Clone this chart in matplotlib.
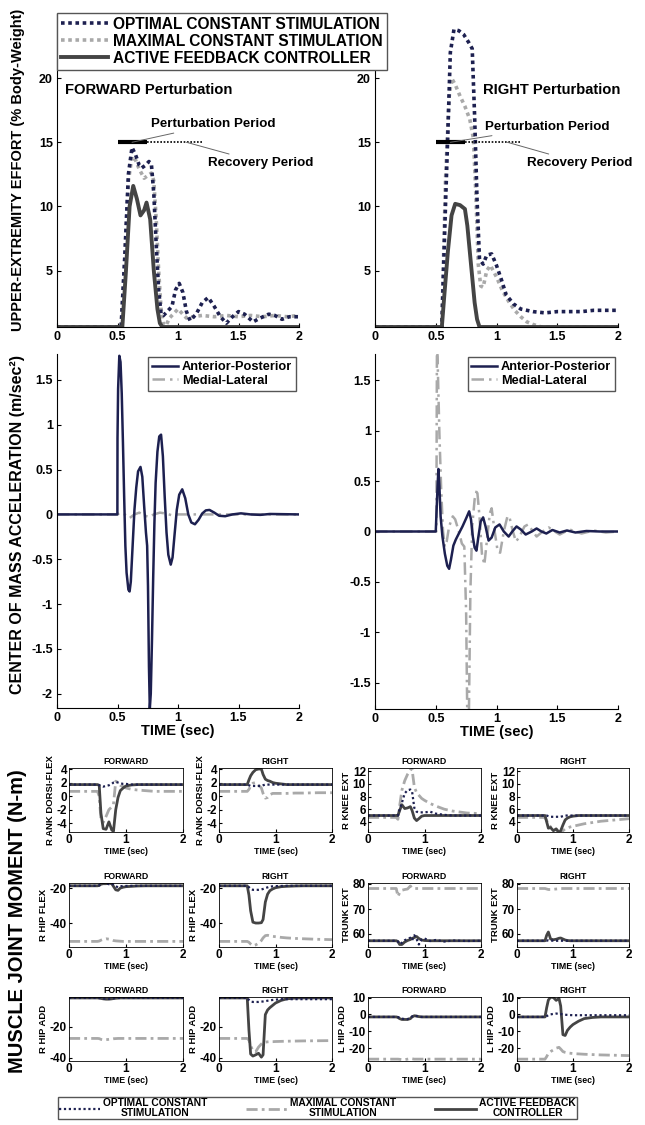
import numpy as np
import matplotlib
matplotlib.use('Agg')
import matplotlib.pyplot as plt
from matplotlib.lines import Line2D
from matplotlib.ticker import FuncFormatter

plt.rcParams['font.family'] = ['Liberation Sans', 'DejaVu Sans']
plt.rcParams['font.weight'] = 'bold'
plt.rcParams['axes.labelweight'] = 'bold'
plt.rcParams['axes.titleweight'] = 'bold'
plt.rcParams['axes.unicode_minus'] = False

# ---------------- upper-extremity effort (% body weight) ----------------
eff_fwd_act_t = [0, 0.54, 0.57, 0.60, 0.63, 0.66, 0.69, 0.72, 0.74, 0.77, 0.80, 0.83, 0.85, 0.87, 2.0]
eff_fwd_act = [0.6, 0.6, 5.0, 10.0, 11.6, 10.6, 9.3, 9.7, 10.3, 9.0, 5.0, 2.0, 0.9, 0.6, 0.6]
eff_fwd_opt_t = [0, 0.53, 0.56, 0.59, 0.62, 0.65, 0.68, 0.70, 0.73, 0.76, 0.78, 0.80, 0.82, 0.84, 0.86,
                 0.88, 0.91, 0.95, 0.98, 1.01, 1.04, 1.07, 1.10, 1.15, 1.20, 1.25, 1.30, 1.35, 1.40,
                 1.45, 1.50, 1.55, 1.62, 1.68, 1.75, 1.80, 1.86, 1.92, 2.0]
eff_fwd_opt = [0.6, 0.6, 6.0, 12.5, 14.6, 14.0, 13.2, 13.0, 13.2, 13.5, 13.3, 11.0, 7.0, 3.5, 1.6,
               1.5, 1.8, 2.2, 3.5, 4.0, 3.3, 1.8, 1.1, 1.6, 2.5, 2.9, 2.2, 1.4, 0.9,
               1.4, 1.8, 1.6, 1.0, 1.3, 1.6, 1.5, 1.2, 1.4, 1.4]
eff_fwd_max_t = [0, 0.53, 0.56, 0.59, 0.62, 0.65, 0.68, 0.72, 0.75, 0.78, 0.80, 0.82, 0.84, 0.86, 0.88,
                 0.90, 0.93, 0.97, 1.00, 1.03, 1.07, 1.12, 1.2, 1.3, 1.4, 1.5, 1.6, 1.7, 1.8, 1.9, 2.0]
eff_fwd_max = [0.6, 0.6, 6.0, 12.0, 13.9, 13.6, 12.9, 12.2, 12.4, 12.6, 12.0, 9.0, 5.0, 2.0, 0.8,
               0.7, 1.3, 1.7, 2.0, 1.7, 1.3, 1.4, 1.5, 1.4, 1.5, 1.4, 1.5, 1.4, 1.5, 1.4, 1.5]

eff_rgt_act_t = [0, 0.55, 0.57, 0.60, 0.63, 0.66, 0.70, 0.74, 0.76, 0.78, 0.80, 0.82, 0.84, 0.86, 2.0]
eff_rgt_act = [0.6, 0.6, 3.0, 6.5, 9.3, 10.2, 10.1, 9.8, 8.5, 6.5, 4.5, 2.5, 1.2, 0.6, 0.6]
eff_rgt_opt_t = [0, 0.55, 0.58, 0.60, 0.62, 0.65, 0.69, 0.73, 0.77, 0.80, 0.82, 0.84, 0.86, 0.89, 0.92,
                 0.96, 1.00, 1.04, 1.08, 1.14, 1.2, 1.3, 1.4, 1.5, 1.6, 1.7, 1.8, 1.9, 2.0]
eff_rgt_opt = [0.6, 0.6, 10.0, 15.8, 22.0, 23.8, 23.7, 23.4, 22.8, 22.3, 17.0, 10.5, 5.9, 5.5, 6.2,
               6.3, 5.4, 4.3, 3.1, 2.4, 2.0, 1.8, 1.7, 1.8, 1.8, 1.8, 1.9, 1.9, 1.9]
eff_rgt_max_t = [0, 0.55, 0.58, 0.61, 0.63, 0.66, 0.70, 0.74, 0.78, 0.81, 0.83, 0.85, 0.87, 0.89, 0.92,
                 0.95, 1.0, 1.05, 1.1, 1.15, 1.2, 1.25, 1.3, 1.37, 2.0]
eff_rgt_max = [0.6, 0.6, 12.0, 18.5, 20.0, 19.5, 18.6, 17.8, 16.8, 15.3, 11.0, 5.5, 3.8, 3.7, 5.0,
               5.4, 4.5, 3.4, 2.6, 1.9, 1.4, 1.0, 0.8, 0.6, 0.6]

# ---------------- centre of mass acceleration (m/sec^2) ----------------
com_fwd_ap_t = [0, 0.499, 0.500, 0.505, 0.515, 0.525, 0.535, 0.545, 0.555, 0.565, 0.575, 0.590, 0.600,
                0.610, 0.625, 0.640, 0.655, 0.670, 0.690, 0.705, 0.720, 0.735, 0.745, 0.752, 0.760,
                0.767, 0.775, 0.785, 0.795, 0.805, 0.815, 0.830, 0.845, 0.860, 0.875, 0.890, 0.905,
                0.920, 0.940, 0.955, 0.970, 0.990, 1.010, 1.035, 1.060, 1.085, 1.110, 1.140, 1.170,
                1.200, 1.230, 1.260, 1.300, 1.340, 1.390, 1.450, 1.520, 1.600, 1.680, 1.760, 2.0]
com_fwd_ap = [0, 0, 0.85, 1.40, 1.77, 1.70, 1.35, 0.80, 0.20, -0.35, -0.65, -0.84, -0.86,
              -0.75, -0.35, 0.05, 0.30, 0.48, 0.53, 0.42, 0.10, -0.20, -0.35, -0.80, -1.70,
              -2.17, -2.00, -1.40, -0.70, -0.10, 0.35, 0.70, 0.87, 0.89, 0.65, 0.20, -0.20,
              -0.45, -0.56, -0.48, -0.25, 0.05, 0.22, 0.28, 0.18, 0.0, -0.09, -0.11, -0.06,
              0.01, 0.045, 0.05, 0.02, -0.015, -0.02, 0.0, 0.012, 0.0, -0.005, 0.005, 0]
com_fwd_ml_t = [0, 0.5, 0.52, 0.56, 0.60, 0.64, 0.68, 0.72, 0.76, 0.80, 0.85, 0.90, 0.95, 1.0, 2.0]
com_fwd_ml = [0, 0, 0.02, 0.0, -0.04, 0.0, 0.02, -0.01, -0.03, 0.0, 0.02, 0.01, -0.01, 0, 0]

com_rgt_ap_t = [0, 0.500, 0.505, 0.515, 0.522, 0.530, 0.540, 0.555, 0.575, 0.595, 0.610, 0.625, 0.645,
                0.665, 0.690, 0.720, 0.750, 0.775, 0.790, 0.805, 0.820, 0.835, 0.850, 0.870, 0.890,
                0.910, 0.935, 0.960, 0.990, 1.025, 1.060, 1.100, 1.130, 1.165, 1.200, 1.240, 1.290,
                1.330, 1.370, 1.410, 1.460, 1.520, 1.580, 1.650, 1.740, 1.850, 2.0]
com_rgt_ap = [0, 0, 0.15, 0.45, 0.62, 0.45, 0.15, -0.05, -0.22, -0.34, -0.37, -0.28, -0.14,
              -0.08, -0.02, 0.05, 0.13, 0.20, 0.12, -0.05, -0.16, -0.19, -0.06, 0.10, 0.14,
              0.05, -0.09, -0.06, 0.04, 0.07, 0.0, -0.05, 0.0, 0.05, 0.02, -0.03, 0.0,
              0.03, 0.0, -0.02, 0.015, -0.01, 0.01, -0.01, 0.005, 0.0, 0]
com_rgt_ml_t = [0, 0.505, 0.510, 0.520, 0.530, 0.545, 0.560, 0.575, 0.590, 0.610, 0.640, 0.660, 0.690,
                0.715, 0.735, 0.750, 0.760, 0.772, 0.785, 0.800, 0.820, 0.840, 0.860, 0.880, 0.900,
                0.920, 0.945, 0.960, 0.985, 1.010, 1.030, 1.060, 1.090, 1.105, 1.135, 1.160, 1.190,
                1.230, 1.260, 1.300, 1.330, 1.380, 1.430, 1.480, 1.520, 1.600, 1.700, 1.800, 1.900, 2.0]
com_rgt_ml = [0, 0, 1.95, 1.47, 0.97, 0.41, 0.0, -0.15, -0.10, 0.05, 0.15, 0.12, 0.0,
              -0.12, -0.15, -0.8, -1.9, -1.9, -0.6, 0.05, 0.32, 0.42, 0.15, -0.22, -0.33,
              -0.10, 0.18, 0.23, 0.0, -0.20, -0.21, 0.0, 0.15, 0.15, 0.0, -0.10, -0.05,
              0.05, 0.07, 0.0, -0.05, 0.0, 0.04, 0.0, -0.03, 0.02, -0.02, 0.01, -0.01, 0]

# ---------------- muscle joint moments (N-m), shared time samples ----------------
t_mom = [0, 0.50, 0.53, 0.56, 0.60, 0.65, 0.70, 0.75, 0.78, 0.82, 0.86, 0.90, 0.95, 1.00, 1.10, 1.20, 1.35, 1.50, 1.75, 2.00]

ank_fwd_act = [1.7, 1.7, 1.6, -2.5, -4.8, -4.9, -3.8, -5.0, -5.2, -2.0, -0.2, 0.8, 1.2, 1.5, 1.65, 1.7, 1.7, 1.7, 1.7, 1.7]
ank_fwd_opt = [1.7, 1.7, 1.6, 1.5, 1.4, 1.5, 1.6, 1.8, 2.0, 2.1, 2.0, 1.9, 1.8, 1.8, 1.7, 1.7, 1.7, 1.7, 1.7, 1.7]
ank_fwd_max = [0.7, 0.7, 0.0, -3.4, -3.9, -3.0, -2.0, -1.6, -1.2, 2.2, 2.0, 1.6, 1.4, 1.2, 1.0, 0.9, 0.8, 0.7, 0.7, 0.7]
ank_rgt_act = [1.7, 1.7, 2.4, 3.0, 3.5, 3.9, 4.0, 4.0, 3.2, 2.5, 2.3, 2.2, 2.0, 1.9, 1.8, 1.7, 1.7, 1.7, 1.7, 1.7]
ank_rgt_opt = [1.7, 1.7, 1.6, 1.5, 1.5, 1.5, 1.5, 1.5, 1.6, 1.7, 1.7, 1.7, 1.7, 1.7, 1.7, 1.7, 1.7, 1.7, 1.7, 1.7]
ank_rgt_max = [0.7, 0.7, 1.0, 1.5, 1.9, 2.0, 1.6, 1.2, 0.4, -0.3, -0.2, 0.2, 0.4, 0.4, 0.4, 0.4, 0.45, 0.45, 0.5, 0.5]

kne_fwd_act = [5.0, 5.0, 5.0, 5.8, 6.7, 6.1, 6.2, 6.4, 5.8, 4.6, 4.2, 4.5, 4.9, 5.0, 5.0, 5.0, 5.0, 5.0, 5.0, 5.0]
kne_fwd_opt = [5.0, 5.0, 5.0, 6.0, 7.0, 8.5, 9.0, 9.1, 8.8, 6.2, 5.6, 5.5, 5.5, 5.5, 5.6, 5.3, 5.1, 5.0, 5.0, 5.0]
kne_fwd_max = [4.7, 4.7, 4.4, 6.5, 9.0, 10.5, 11.5, 12.2, 12.3, 9.5, 8.6, 8.2, 7.7, 7.4, 6.9, 6.5, 6.0, 5.7, 5.4, 5.3]
kne_rgt_act = [5.0, 5.0, 4.0, 3.0, 3.1, 2.6, 2.9, 2.3, 2.6, 3.5, 4.3, 4.6, 4.8, 4.9, 5.0, 5.0, 5.0, 5.0, 5.0, 5.0]
kne_rgt_opt = [5.0, 5.0, 5.0, 4.9, 4.8, 4.8, 4.8, 4.8, 4.8, 4.9, 5.0, 5.0, 5.0, 5.0, 5.0, 5.0, 5.0, 5.0, 5.0, 5.0]
kne_rgt_max = [4.7, 4.7, 4.2, 3.6, 3.2, 3.0, 2.7, 2.5, 2.4, 2.6, 2.9, 3.0, 3.2, 3.3, 3.5, 3.7, 3.9, 4.1, 4.3, 4.5]

hfl_fwd_act = [-18.7, -18.7, -18.5, -17.8, -17.5, -17.5, -17.2, -17.5, -19.0, -21.0, -21.3, -20.0, -19.5, -19.2, -19.0, -18.8, -18.7, -18.7, -18.7, -18.7]
hfl_fwd_opt = [-18.7, -18.7, -18.5, -17.5, -17.0, -17.3, -17.8, -17.5, -18.0, -19.0, -19.5, -19.0, -18.8, -18.8, -18.7, -18.7, -18.7, -18.7, -18.7, -18.7]
hfl_fwd_max = [-50.5, -50.5, -50.3, -49.8, -49.3, -49.0, -49.2, -49.6, -50.0, -50.2, -50.3, -50.4, -50.5, -50.5, -50.5, -50.5, -50.5, -50.5, -50.5, -50.5]
hfl_rgt_act = [-18.7, -18.7, -24.0, -33.0, -39.5, -40.0, -40.0, -39.8, -38.0, -28.0, -23.5, -21.5, -20.5, -19.8, -19.2, -19.0, -18.8, -18.7, -18.7, -18.7]
hfl_rgt_opt = [-18.7, -18.7, -19.5, -20.5, -21.0, -21.0, -21.0, -20.8, -20.5, -20.0, -19.6, -19.2, -19.0, -18.9, -18.8, -18.7, -18.7, -18.7, -18.7, -18.7]
hfl_rgt_max = [-50.5, -50.5, -51.0, -52.0, -53.0, -52.5, -51.5, -50.0, -48.5, -47.2, -47.0, -47.3, -47.6, -47.8, -48.2, -48.5, -48.8, -49.0, -49.3, -49.5]

trk_fwd_act = [57.3, 57.3, 57.0, 55.8, 55.8, 56.8, 57.4, 57.8, 58.2, 58.6, 59.0, 58.2, 57.6, 57.4, 57.3, 57.3, 57.3, 57.3, 57.3, 57.3]
trk_fwd_opt = [57.3, 57.3, 57.0, 56.0, 56.5, 57.5, 58.0, 58.5, 57.5, 59.5, 58.0, 55.8, 57.8, 58.2, 57.2, 57.6, 57.0, 57.4, 57.2, 57.3]
trk_fwd_max = [78.2, 78.2, 75.0, 76.5, 77.5, 77.8, 78.0, 79.2, 78.4, 78.2, 78.2, 78.2, 78.2, 78.2, 78.2, 78.2, 78.2, 78.2, 78.2, 78.2]
trk_rgt_act = [57.3, 57.3, 59.5, 60.8, 58.0, 57.7, 57.9, 58.3, 58.4, 58.0, 57.6, 57.4, 57.3, 57.3, 57.3, 57.3, 57.3, 57.3, 57.3, 57.3]
trk_rgt_opt = [57.3, 57.3, 57.3, 57.5, 57.4, 57.3, 57.3, 57.3, 57.3, 57.3, 57.3, 57.3, 57.3, 57.3, 57.3, 57.3, 57.3, 57.3, 57.3, 57.3]
trk_rgt_max = [78.2, 78.2, 78.0, 77.8, 77.8, 77.9, 78.0, 78.1, 78.2, 78.2, 78.2, 78.2, 78.2, 78.2, 78.2, 78.2, 78.2, 78.2, 78.2, 78.2]

rha_fwd_act = [-1.2, -1.2, -1.3, -1.5, -1.8, -2.0, -2.0, -1.8, -1.6, -1.4, -1.3, -1.2, -1.2, -1.2, -1.2, -1.2, -1.2, -1.2, -1.2, -1.2]
rha_fwd_opt = [-1.2, -1.2, -1.3, -1.4, -1.6, -1.8, -1.8, -1.6, -1.4, -1.3, -1.2, -1.2, -1.2, -1.2, -1.2, -1.2, -1.2, -1.2, -1.2, -1.2]
rha_fwd_max = [-27.4, -27.4, -27.5, -28.0, -28.3, -28.2, -28.0, -27.8, -27.6, -27.5, -27.4, -27.4, -27.4, -27.4, -27.4, -27.4, -27.4, -27.4, -27.4, -27.4]
rha_rgt_act = [-1.2, -1.2, -22.0, -37.5, -38.8, -38.0, -37.0, -39.5, -38.0, -12.0, -9.0, -7.5, -6.0, -4.5, -2.8, -1.8, -1.3, -1.2, -1.2, -1.2]
rha_rgt_opt = [-1.2, -1.2, -2.5, -3.5, -3.8, -3.8, -3.8, -3.6, -3.5, -3.3, -3.0, -2.8, -2.5, -2.3, -2.0, -2.0, -2.0, -2.0, -2.0, -2.0]
rha_rgt_max = [-27.4, -27.4, -28.5, -32.0, -35.5, -36.0, -33.0, -31.0, -30.0, -29.8, -29.6, -29.5, -29.5, -29.4, -29.3, -29.2, -29.1, -29.0, -28.9, -28.8]

lha_fwd_act = [-1.5, -1.5, -1.8, -2.5, -3.0, -3.0, -3.0, -2.5, -1.5, -0.8, -1.0, -1.3, -1.5, -1.5, -1.5, -1.5, -1.5, -1.5, -1.5, -1.5]
lha_fwd_opt = [-1.5, -1.5, -1.6, -2.0, -2.5, -2.8, -2.8, -2.0, -1.2, -0.8, -1.0, -1.3, -1.5, -1.5, -1.5, -1.5, -1.5, -1.5, -1.5, -1.5]
lha_fwd_max = [-26.5, -26.5, -26.5, -26.6, -26.8, -26.8, -26.5, -26.2, -26.3, -26.5, -26.5, -26.5, -26.5, -26.5, -26.5, -26.5, -26.5, -26.5, -26.5, -26.5]
lha_rgt_act = [-1.5, -1.5, 4.0, 8.5, 10.2, 10.0, 8.3, 9.5, 5.0, -12.0, -12.5, -9.5, -7.5, -6.0, -4.0, -2.5, -1.8, -1.5, -1.5, -1.5]
lha_rgt_opt = [-1.5, -1.5, -1.0, -0.5, 0.0, 0.3, 0.5, 0.3, 0.2, 0.0, -0.2, -0.3, -0.4, -0.5, -0.5, -0.5, -0.5, -0.5, -0.5, -0.5]
lha_rgt_max = [-26.5, -26.5, -25.0, -23.0, -22.0, -21.0, -20.0, -19.5, -20.5, -22.0, -22.5, -22.8, -23.0, -23.2, -23.4, -23.6, -23.8, -24.0, -24.2, -24.4]

W, H = 645, 1125
NAVY = '#1d2050'
GREY = '#a9a9a9'
DARK = '#444444'


def rect(x0, x1, y0, y1):
    return [x0 / W, 1 - y1 / H, (x1 - x0) / W, (y1 - y0) / H]


fmt = FuncFormatter(lambda v, p: '%g' % v)

fig = plt.figure(figsize=(W / 100, H / 100), dpi=100)

# ---------- top row: effort ----------
top_specs = [
    (rect(57, 299, 14, 327), 'FORWARD Perturbation', 0.07,
     (eff_fwd_opt_t, eff_fwd_opt), (eff_fwd_max_t, eff_fwd_max), (eff_fwd_act_t, eff_fwd_act),
     (0.62, 0.78, 16.4), (1.07, 1.25, 13.4)),
    (rect(375, 618, 14, 327), 'RIGHT Perturbation', 0.89,
     (eff_rgt_opt_t, eff_rgt_opt), (eff_rgt_max_t, eff_rgt_max), (eff_rgt_act_t, eff_rgt_act),
     (0.62, 0.905, 16.2), (1.09, 1.25, 13.4)),
]
for r, ttl, tx, opt, mx, act, pp, rp in top_specs:
    ax = fig.add_axes(r)
    ax.plot(mx[0], mx[1], color=GREY, lw=2.6, ls=(0, (1, 1)))
    ax.plot(opt[0], opt[1], color=NAVY, lw=2.6, ls=(0, (1, 1)))
    ax.plot(act[0], act[1], color=DARK, lw=2.8, solid_capstyle='butt')
    ax.plot([0.5, 0.74], [15, 15], color='black', lw=3, solid_capstyle='butt')
    ax.plot([0.74, 1.2], [15, 15], color='black', lw=1.2, ls=(0, (1, 1)))
    ax.text(tx, 19.1, ttl, fontsize=10.6, va='center', ha='left')
    ax.annotate('Perturbation Period', xy=(pp[0], 15), xytext=(pp[1], pp[2]),
                fontsize=9.6, va='center', ha='left',
                arrowprops=dict(arrowstyle='-', color='#666666', lw=0.7, shrinkA=0, shrinkB=0))
    ax.annotate('Recovery Period', xy=(rp[0], 15), xytext=(rp[1], rp[2]),
                fontsize=9.6, va='center', ha='left',
                arrowprops=dict(arrowstyle='-', color='#666666', lw=0.7, shrinkA=0, shrinkB=0))
    ax.set_xlim(0, 2)
    ax.set_ylim(0.6, 25)
    ax.set_xticks([0, 0.5, 1, 1.5, 2])
    ax.set_yticks([5, 10, 15, 20])
    ax.xaxis.set_major_formatter(fmt)
    ax.spines['top'].set_visible(False)
    ax.spines['right'].set_visible(False)
    ax.tick_params(direction='in', length=3, labelsize=9, pad=3)

leg_top = [Line2D([], [], color=NAVY, lw=2.6, ls=(0, (1, 1))),
           Line2D([], [], color=GREY, lw=2.6, ls=(0, (1, 1))),
           Line2D([], [], color=DARK, lw=2.8)]
fig.legend(leg_top, ['OPTIMAL CONSTANT STIMULATION', 'MAXIMAL CONSTANT STIMULATION',
                     'ACTIVE FEEDBACK CONTROLLER'],
           loc='upper left', bbox_to_anchor=(57 / W, 1 - 13 / H), fontsize=11.2,
           handlelength=3.0, labelspacing=0.12, borderpad=0.25, handletextpad=0.35,
           fancybox=False, edgecolor='#555555', framealpha=1, borderaxespad=0)

# ---------- middle row: COM acceleration ----------
mid_specs = [
    (rect(57, 299, 354, 708), (com_fwd_ap_t, com_fwd_ap), (com_fwd_ml_t, com_fwd_ml),
     (-2.16, 1.79), [-2, -1.5, -1, -0.5, 0, 0.5, 1, 1.5]),
    (rect(375, 618, 354, 709), (com_rgt_ap_t, com_rgt_ap), (com_rgt_ml_t, com_rgt_ml),
     (-1.76, 1.76), [-1.5, -1, -0.5, 0, 0.5, 1, 1.5]),
]
for r, ap, ml, yl, yt in mid_specs:
    ax = fig.add_axes(r)
    ax.plot(ml[0], ml[1], color=GREY, lw=1.8, ls=(0, (5, 2, 1, 2)), label='Medial-Lateral')
    ax.plot(ap[0], ap[1], color=NAVY, lw=1.8, label='Anterior-Posterior')
    h, l = ax.get_legend_handles_labels()
    ax.legend(h[::-1], l[::-1], loc='upper right', fontsize=9.2, handlelength=2.0,
              labelspacing=0.15, borderpad=0.3, handletextpad=0.3, fancybox=False,
              edgecolor='#555555', framealpha=1, borderaxespad=0.25)
    ax.set_xlim(0, 2)
    ax.set_ylim(*yl)
    ax.set_xticks([0, 0.5, 1, 1.5, 2])
    ax.set_yticks(yt)
    ax.xaxis.set_major_formatter(fmt)
    ax.yaxis.set_major_formatter(fmt)
    ax.spines['top'].set_visible(False)
    ax.spines['right'].set_visible(False)
    ax.tick_params(direction='in', length=3, labelsize=9, pad=3)
    ax.set_xlabel('TIME (sec)', fontsize=10.5, labelpad=0)

# ---------- bottom: muscle joint moments ----------
cols = [(69, 183), (219, 332), (368, 481), (517, 629)]
rows = [(768, 832), (883, 947), (997, 1061)]
small = [
    (0, 0, 'R ANK DORSI-FLEX', 'FORWARD', ank_fwd_opt, ank_fwd_max, ank_fwd_act, (-5.3, 4.15), [-4, -2, 0, 2, 4]),
    (0, 1, 'R ANK DORSI-FLEX', 'RIGHT', ank_rgt_opt, ank_rgt_max, ank_rgt_act, (-5.3, 4.15), [-4, -2, 0, 2, 4]),
    (0, 2, 'R KNEE EXT', 'FORWARD', kne_fwd_opt, kne_fwd_max, kne_fwd_act, (2.4, 12.5), [4, 6, 8, 10, 12]),
    (0, 3, 'R KNEE EXT', 'RIGHT', kne_rgt_opt, kne_rgt_max, kne_rgt_act, (2.4, 12.5), [4, 6, 8, 10, 12]),
    (1, 0, 'R HIP FLEX', 'FORWARD', hfl_fwd_opt, hfl_fwd_max, hfl_fwd_act, (-53.7, -17.1), [-40, -20]),
    (1, 1, 'R HIP FLEX', 'RIGHT', hfl_rgt_opt, hfl_rgt_max, hfl_rgt_act, (-53.7, -17.1), [-40, -20]),
    (1, 2, 'TRUNK EXT', 'FORWARD', trk_fwd_opt, trk_fwd_max, trk_fwd_act, (54.8, 80.4), [60, 70, 80]),
    (1, 3, 'TRUNK EXT', 'RIGHT', trk_rgt_opt, trk_rgt_max, trk_rgt_act, (54.8, 80.4), [60, 70, 80]),
    (2, 0, 'R HIP ADD', 'FORWARD', rha_fwd_opt, rha_fwd_max, rha_fwd_act, (-42, -0.6), [-40, -20]),
    (2, 1, 'R HIP ADD', 'RIGHT', rha_rgt_opt, rha_rgt_max, rha_rgt_act, (-42, -0.6), [-40, -20]),
    (2, 2, 'L HIP ADD', 'FORWARD', lha_fwd_opt, lha_fwd_max, lha_fwd_act, (-27.6, 10.3), [-20, -10, 0, 10]),
    (2, 3, 'L HIP ADD', 'RIGHT', lha_rgt_opt, lha_rgt_max, lha_rgt_act, (-27.6, 10.3), [-20, -10, 0, 10]),
]
for ri, ci, ylab, ttl, opt, mx, act, yl, yt in small:
    ax = fig.add_axes(rect(cols[ci][0], cols[ci][1], rows[ri][0], rows[ri][1]))
    ax.plot(t_mom, mx, color=GREY, lw=2.0, ls=(0, (4, 1.5, 1, 1.5)))
    ax.plot(t_mom, act, color=DARK, lw=2.0)
    ax.plot(t_mom, opt, color=NAVY, lw=1.6, ls=(0, (1, 1.2)))
    ax.set_xlim(0, 2)
    ax.set_ylim(*yl)
    ax.set_xticks([0, 1, 2])
    ax.set_yticks(yt)
    ax.tick_params(direction='in', length=2, labelsize=8.5, pad=1.5)
    for s in ax.spines.values():
        s.set_linewidth(0.6)
    ax.set_title(ttl, fontsize=6.3, pad=3)
    ax.set_ylabel(ylab, fontsize=6.8, labelpad=1)
    ax.set_xlabel('TIME (sec)', fontsize=6.3, labelpad=1)

leg_bot = [Line2D([], [], color=NAVY, lw=1.6, ls=(0, (1, 1.2))),
           Line2D([], [], color=GREY, lw=2.0, ls=(0, (4, 1.5, 1, 1.5))),
           Line2D([], [], color=DARK, lw=2.0)]
lb = fig.legend(leg_bot, ['OPTIMAL CONSTANT\nSTIMULATION', 'MAXIMAL CONSTANT\nSTIMULATION',
                          'ACTIVE FEEDBACK\nCONTROLLER'],
                loc='lower left', bbox_to_anchor=(58 / W, 1 - 1119 / H, (577 - 58) / W, 22 / H),
                mode='expand', ncol=3, fontsize=7.4, handlelength=4.0, handletextpad=0.3,
                borderpad=0.1, fancybox=False, edgecolor='#555555', framealpha=1, borderaxespad=0)
for t in lb.get_texts():
    t.set_multialignment('center')
    t.set_linespacing(0.95)

fig.text(18 / W, 1 - 170 / H, 'UPPER-EXTREMITY EFFORT (% Body-Weight)', rotation=90,
         fontsize=10.5, ha='center', va='center')
fig.text(18 / W, 1 - 525 / H, 'CENTER OF MASS ACCELERATION (m/sec²)', rotation=90,
         fontsize=11.5, ha='center', va='center')
fig.text(18 / W, 1 - 921 / H, 'MUSCLE JOINT MOMENT (N-m)', rotation=90,
         fontsize=14.5, ha='center', va='center')

fig.savefig('out.png', dpi=100)
